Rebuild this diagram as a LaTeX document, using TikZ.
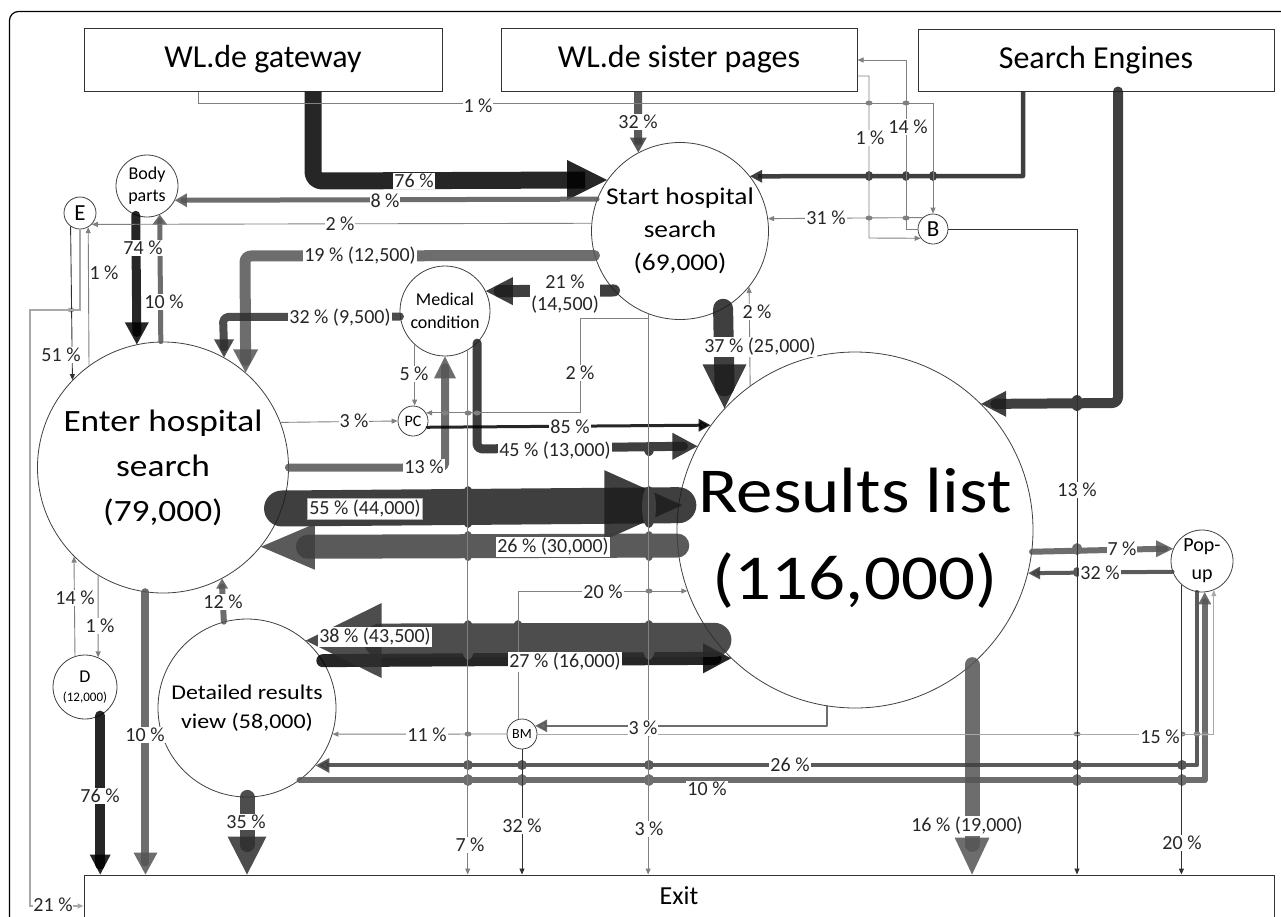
\documentclass[tikz,border=0pt]{standalone}
\usepackage{fontspec}
\setmainfont{Carlito}
\newfontfamily\wfont{Carlito}[FakeStretch=1.14]
\usetikzlibrary{arrows.meta,calc}
\definecolor{cA}{HTML}{000000}
\definecolor{cB}{HTML}{1D1D1D}
\definecolor{cC}{HTML}{2E2E2E}
\definecolor{cD}{HTML}{3D3D3D}
\definecolor{cE}{HTML}{545454}
\definecolor{hA}{HTML}{262626}
\definecolor{hB}{HTML}{3F3F3F}
\definecolor{hC}{HTML}{4D4D4D}
\definecolor{hD}{HTML}{5A5A5A}
\definecolor{hE}{HTML}{6E6E6E}
\definecolor{tg}{HTML}{808080}
\definecolor{td}{HTML}{303030}
\definecolor{tl}{HTML}{A8A8A8}
\newcommand\tri[5]{\fill[#1,opacity=.85,shift={(#2)},rotate=#3] (0,0) -- (-#4,#5) -- (-#4,-#5) -- cycle;}
\newcommand\hop[5]{\fill[#5] (#1,#2) ellipse [x radius=#3, y radius=#4];}
\tikzset{
 flow/.style={opacity=.85, line cap=round, line join=round},
 fine/.style={draw=tg, line width=0.9pt, -{Triangle[length=6pt,width=5pt]}},
 lbl/.style={fill=white, inner sep=1pt, text=black!85, font=\fontsize{20}{22}\selectfont},
 circ/.style={circle, draw=black!75, line width=0.8pt, inner sep=0pt, align=center},
 box/.style={draw=black!80, line width=1pt, inner sep=0pt, font=\fontsize{32}{36}\selectfont},
}
\begin{document}
\begin{tikzpicture}[x=1pt,y=-1pt]
\useasboundingbox (0,0) rectangle (1281,916);
\draw[line width=1.2pt, rounded corners=9pt] (9.5,11.5) rectangle (1300,940);

% ---------- nodes ----------
\node[box, minimum width=358pt, minimum height=63pt] (gw) at (263,59.5) {WL.de gateway};
\node[box, minimum width=356pt, minimum height=63pt] (sis) at (679,59.5) {WL.de sister pages};
\node[box, minimum width=356pt, minimum height=62pt] (se) at (1096,60) {Search Engines};
\node[box, minimum width=1190pt, minimum height=42pt, font=\fontsize{26}{30}\selectfont] (exit) at (679,896) {Exit};

\node[circ, minimum size=177pt, font=\wfont\fontsize{24}{33}\selectfont] (start) at (680,231) {Start hospital\\search\\(69,000)};
\node[circ, minimum size=356pt, font=\wfont\fontsize{64}{87}\selectfont] (results) at (855,530) {\rule{0pt}{60pt}Results list\\(116,000)};
\node[circ, minimum size=251pt, font=\wfont\fontsize{31}{45}\selectfont] (enter) at (163,467.5) {Enter hospital\\search\\(79,000)};
\node[circ, minimum size=178pt, font=\wfont\fontsize{21}{29}\selectfont] (detail) at (247,708) {Detailed results\\view (58,000)};
\node[circ, minimum size=90pt, font=\fontsize{18}{23}\selectfont] (medical) at (445,311) {Medical\\condition};
\node[circ, minimum size=62pt, font=\fontsize{18}{22}\selectfont] (body) at (147,186) {Body\\parts};
\node[circ, minimum size=32pt, font=\fontsize{23}{24}\selectfont] (E) at (80,213) {E};
\node[circ, minimum size=30pt, font=\fontsize{23}{24}\selectfont] (B) at (933,229) {B};
\node[circ, minimum size=30pt, font=\fontsize{16}{18}\selectfont] (PC) at (413,421) {PC};
\node[circ, minimum size=30pt, font=\fontsize{14}{16}\selectfont] (BM) at (522,734) {BM};
\node[circ, minimum size=64pt, font=\fontsize{18}{19}\selectfont] (D) at (85,687) {D\\{\fontsize{13}{14}\selectfont(12,000)}};
\node[circ, minimum size=62pt, font=\fontsize{20}{28}\selectfont] (popup) at (1202,561) {Pop-\\up};

% ---------- thick flows ----------
\draw[flow, cA, line width=17pt, line cap=butt, rounded corners=9pt] (gw.south -| 313,0) -- (313,181) -- ($(start.145.6)+(-22,0)$);
\tri{cA}{start.145.6}{0}{40}{20}
\draw[flow, cD, line width=8pt, line cap=butt] (sis.south -| 638,0) -- ($(start.118)+(0,-8)$);
\tri{cD}{start.118}{-90}{15}{8.5}
\draw[flow, cB, line width=4.5pt, line cap=butt] (se.south -| 1023,0) -- (1023,176) -- ($(start.38.4)+(8,0)$);
\tri{cB}{start.38.4}{180}{12}{6.5}
\draw[flow, cB, line width=10pt, rounded corners=6pt] (se.south -| 1118,0) -- (1118,403) -- ($(results.45.5)+(14,0)$);
\tri{cB}{results.45.5}{180}{25}{13}
\draw[flow, cE, line width=5pt] (start.159.5) -- ($(body.333.2)+(8,0)$);
\tri{cE}{body.333.2}{180}{12}{7}
\draw[flow, cE, line width=11pt, rounded corners=6pt] (start.196.4) -- (245,256) -- ($(enter.49.4)+(0,-12)$);
\tri{cE}{enter.49.4}{-90}{23}{12.5}
\draw[flow, cC, line width=8pt, rounded corners=5pt] (medical.187.7) -- (223,317) -- ($(enter.61.6)+(0,-10)$);
\tri{cC}{enter.61.6}{-90}{18}{10}
\draw[flow, cB, line width=12pt] (start.222.7) -- ($(medical.26.4)+(14,0)$);
\tri{cB}{medical.26.4}{180}{27}{14}
\draw[flow, cB, line width=20pt] (start.299.4) -- ($(results.137.9)+(0,-22)$);
\tri{cB}{results.137.9}{-90}{44}{22}
\draw[flow, cB, line width=9pt, rounded corners=5pt] (medical.315.4) -- (477,449) -- ($(results.152.9)+(-14,0)$);
\tri{cB}{results.152.9}{0}{25}{13.5}
\draw[flow, cE, line width=8pt, rounded corners=4pt] (enter.east) -- (445,467.5) -- ($(medical.south)+(0,11)$);
\tri{cE}{medical.south}{90}{22}{11}
\draw[flow, cA, line width=9pt] (body.249.2) -- ($(enter.102.2)+(0,-12)$);
\tri{cA}{enter.102.2}{-90}{22}{12}
\draw[flow, cE, line width=5pt] (enter.91.1) -- ($(body.294.8)+(0,6)$);
\tri{cE}{body.294.8}{90}{10}{7.5}
\draw[flow, cB, line width=36pt] (enter.341.5) -- (results.172.6);
\tri{cB}{$(results.172.6)+(4,0)$}{0}{78}{35}
\draw[flow, cD, line width=24pt] (results.185.2) -- ($(enter.321.1)+(47,0)$);
\tri{cD}{enter.321.1}{180}{54}{23}
\draw[flow, cA, line width=13pt] (detail.32.6) -- ($(results.226.9)+(-16,0)$);
\tri{cA}{results.226.9}{0}{28}{15}
\draw[flow, cC, line width=34pt] (results.218.2) -- ($(detail.49.8)+(75,0)$);
\tri{cC}{detail.49.8}{180}{76}{37.5}
\draw[flow, cE, line width=6pt] (detail.105.6) -- ($(enter.298.8)+(0,8)$);
\tri{cE}{enter.298.8}{90}{10}{6}
\draw[flow, cC, line width=15pt] (detail.south) -- ($(detail.south |- exit.north)+(0,-30)$);
\tri{cC}{detail.south |- exit.north}{-90}{38}{19.5}
\draw[flow, cE, line width=8pt] (enter.262) -- ($(enter.262 |- exit.north)+(0,-12)$);
\tri{cE}{enter.262 |- exit.north}{-90}{22}{12}
\draw[flow, cA, line width=10pt] (D.298) -- ($(D.298 |- exit.north)+(0,-10)$);
\tri{cA}{D.298 |- exit.north}{-90}{20}{10.5}
\draw[flow, cE, line width=15pt] (results.311.1) -- ($(results.311.1 |- exit.north)+(0,-30)$);
\tri{cE}{results.311.1 |- exit.north}{-90}{37}{17.5}
\draw[flow, cE, line width=6pt] (results.353.9) -- ($(popup.157.2)+(-8,0)$);
\tri{cE}{popup.157.2}{0}{17}{8.5}
\draw[flow, cD, line width=4pt, -{Triangle[length=12pt,width=12pt]}] (popup.200.8) -- (results.346.4);
\draw[flow, cE, line width=2.5pt, -{Triangle[length=12pt,width=12pt]}] (results.261) |- (BM.32.2);
\draw[flow, cD, line width=4pt, -{Triangle[length=14pt,width=14pt]}] (popup.260.7) |- (detail.320.2);
\draw[flow, cE, line width=6pt] (detail.306) -| ($(popup.275.5)+(0,9)$);
\tri{cE}{popup.275.5}{90}{12}{6.5}
\draw[flow, cA, line width=3pt, -{Triangle[length=12pt,width=12pt]}] (PC.336.4) -- (results.144.6);

% ---------- hops ----------
\hop{468}{507}{7}{21}{hB}\hop{649}{507}{7}{21}{hB}
\hop{468}{546}{6}{15}{hD}\hop{649}{546}{6}{15}{hD}
\hop{468}{640}{7}{20}{hC}\hop{518}{640}{7}{20}{hC}\hop{649}{640}{7}{20}{hC}
\hop{649}{449}{5}{7}{hB}
\hop{1077}{403}{6}{8}{hB}
\hop{869}{176}{4}{5}{hB}\hop{906}{176}{4}{5}{hB}\hop{933}{176}{4}{5}{hB}
\hop{1077}{549}{5}{6}{hE}
\hop{1077}{572}{4}{5}{hD}
\foreach \xx in {468,522,649,1077,1182}{\hop{\xx}{765}{5}{5}{hD}\hop{\xx}{780}{5}{6}{hE}}
\foreach \xx/\yy in {869/103,906/103,869/218,906/218,649/734,1077/734,1182/734,1197/734,1205/734,468/734,649/591,445/413,468/413,477/413}{\hop{\xx}{\yy}{3.5}{2.5}{tg}}
\hop{71}{310}{3.5}{2.5}{tl}

% ---------- thin flows ----------
\draw[fine] (gw.south -| 198,0) -- (198,103) -- (933,103) -- (B.north);
\draw[fine] (sis.south east |- 0,76) -- (869,76) -- (869,238) -- (B.217);
\draw[fine] (B.west) -- (906,229) -- (906,60) -- (sis.east |- 0,60);
\draw[fine] (B.132.8) -- (start.8.5);
\draw[fine, draw=td] (B.east) -- (1077,229) -- (exit.north -| 1077,0);
\draw[fine] (start.175.5) -- (E.316.5);
\draw[fine] (results.126.5) -- (start.321.7);
\draw[fine] (enter.21.4) -- (PC.west);
\draw[fine] (medical.228.2) -- (medical.228.2 |- PC.north);
\draw[fine] (start.249.5) |- (580,318) |- (PC.32.2);
\draw[fine] (start.249.5) -- (start.249.5 |- exit.north);
\draw[fine] (medical.300.7) -- (medical.300.7 |- exit.north);
\draw[fine] (enter.239.1) -- (D.66);
\draw[fine] (D.108.2) -- (enter.225.8);
\draw[fine, draw=td] (E.235.7) -- (enter.136.8);
\draw[fine] (enter.126.4) -- (E.300);
\draw[fine, draw=tl, line width=1.5pt] (E.south) -- (80,310) -- (30,310) |- (exit.west |- 0,906);
\draw[fine, draw=tl] (BM.east) -| (popup.292.8);
\draw[fine] (BM.west) -- (detail.343);
\draw[fine] (BM.105.4) |- (results.200);
\draw[fine, draw=td] (BM.south) -- (BM.south |- exit.north);
\draw[fine, draw=td, line width=1.5pt] (popup.229.8) -- (popup.229.8 |- exit.north);

% ---------- labels ----------
\node[lbl] at (414,181) {76 \%};
\node[lbl] at (478,106) {1 \%};
\node[lbl] at (638,122) {32 \%};
\node[lbl] at (870,138) {1 \%};
\node[lbl] at (908,127) {14 \%};
\node[lbl] at (826,218) {31 \%};
\node[lbl] at (1077,490) {13 \%};
\node[lbl] at (385,201) {8 \%};
\node[lbl] at (340,224) {2 \%};
\node[lbl] at (360,256) {19 \% (12,500)};
\node[lbl] at (340,318) {32 \% (9,500)};
\node[lbl, align=center, font=\fontsize{20}{22}\selectfont] at (565,294) {21 \%\\(14,500)};
\node[lbl] at (760,347) {37 \% (25,000)};
\node[lbl] at (757,312) {2 \%};
\node[lbl] at (555,451) {45 \% (13,000)};
\node[lbl] at (570,427) {85 \%};
\node[lbl] at (354,421) {3 \%};
\node[lbl] at (414,374) {5 \%};
\node[lbl] at (580,373) {2 \%};
\node[lbl] at (649,829) {3 \%};
\node[lbl] at (470,845) {7 \%};
\node[lbl] at (424,467) {13 \%};
\node[lbl, draw=black!30, line width=0.5pt, inner sep=2pt] at (365,509) {55 \% (44,000)};
\node[lbl] at (553,547) {26 \% (30,000)};
\node[lbl] at (375,637) {38 \% (43,500)};
\node[lbl] at (565,662) {27 \% (16,000)};
\node[lbl] at (246,822) {35 \%};
\node[lbl] at (223,602) {12 \%};
\node[lbl] at (145,735) {10 \%};
\node[lbl] at (100,796) {76 \%};
\node[lbl] at (100,626) {1 \%};
\node[lbl] at (75,598) {14 \%};
\node[lbl] at (61,355) {51 \%};
\node[lbl] at (104,273) {1 \%};
\node[lbl, inner sep=0.5pt] at (53,905) {21 \%};
\node[lbl] at (143,248) {74 \%};
\node[lbl] at (164,302) {10 \%};
\node[lbl] at (1122,549) {7 \%};
\node[lbl] at (1100,573) {32 \%};
\node[lbl] at (643,728) {3 \%};
\node[lbl] at (1160,737) {15 \%};
\node[lbl] at (427,735) {11 \%};
\node[lbl] at (603,592) {20 \%};
\node[lbl] at (522,826) {32 \%};
\node[lbl] at (790,765) {26 \%};
\node[lbl] at (707,789) {10 \%};
\node[lbl] at (1182,843) {20 \%};
\node[lbl] at (967,826) {16 \% (19,000)};
\end{tikzpicture}
\end{document}
